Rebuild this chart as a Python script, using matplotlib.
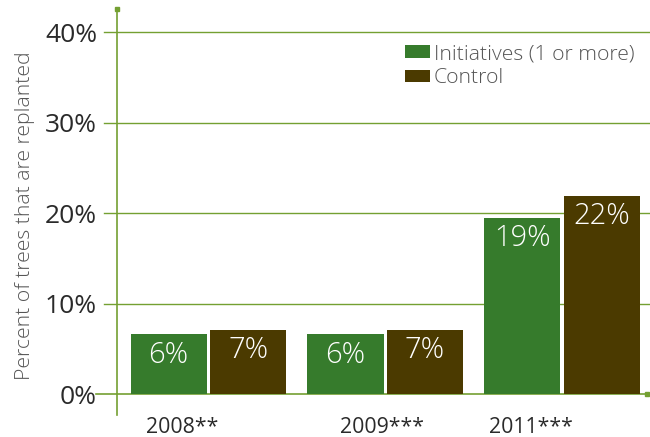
import matplotlib.pyplot as plt
import numpy as np

plt.rcParams['font.family'] = ['Open Sans', 'DejaVu Sans']
plt.rcParams['font.weight'] = 'light'

# dados
years = ['2008**', '2009***', '2011***']
initiatives = [6.6, 6.6, 19.5]
control = [7.1, 7.1, 21.9]
initiatives_labels = ['6%', '6%', '19%']
control_labels = ['7%', '7%', '22%']
y_ticks = [0, 10, 20, 30, 40]
label_shift = [-0.147, -0.017, -0.175]  # deslocamento dos rótulos do eixo x

green = '#367B2C'
brown = '#4B3A00'
line_color = '#74A032'
text_gray = '#555555'
text_dark = '#2a2a2a'

fig = plt.figure(figsize=(6.5, 4.37), dpi=100)
ax = fig.add_axes([117 / 650, 1 - 415 / 437, 533 / 650, 406 / 437])

x = np.arange(len(years))
width = 0.43
off = 0.225

b1 = ax.bar(x - off, initiatives, width, color=green, label='Initiatives (1 or more)', zorder=2)
b2 = ax.bar(x + off, control, width, color=brown, label='Control', zorder=2)

# rótulos dentro das barras
for bars, labels in [(b1, initiatives_labels), (b2, control_labels)]:
    for bar, lab in zip(bars, labels):
        ax.annotate(lab, (bar.get_x() + bar.get_width() / 2, bar.get_height()),
                    xytext=(0, -14.8), textcoords='offset points',
                    ha='center', va='center', color='white', fontsize=21, zorder=3)

ax.set_xlim(-0.517, 2.497)
ax.set_ylim(-2.32, 42.6)

# linhas de grade
trans = ax.get_yaxis_transform()
for t in y_ticks:
    if t == 0:
        ax.plot([-0.039, 0.994], [t, t], color=line_color, lw=1.2, transform=trans,
                clip_on=False, zorder=1)
        ax.plot([0.994], [t], marker='s', ms=3, color=line_color, transform=trans,
                clip_on=False)
    else:
        ax.plot([-0.0244, 1.0], [t, t], color=line_color, lw=1.0, transform=trans,
                clip_on=False, zorder=1)

for s in ['top', 'right', 'bottom']:
    ax.spines[s].set_visible(False)
ax.spines['left'].set_color(line_color)
ax.spines['left'].set_linewidth(1.2)
ax.plot([0], [1], marker='s', ms=3, color=line_color, transform=ax.transAxes, clip_on=False)

ax.set_yticks(y_ticks)
ax.set_yticklabels([f'{t}%' for t in y_ticks], fontweight='normal')
ax.tick_params(axis='y', length=0, pad=14.4, labelsize=19, labelcolor=text_dark)

ax.set_xticks([])
xt = ax.get_xaxis_transform()
for i, lab in enumerate(years):
    ax.text(x[i] + label_shift[i], -0.03, lab, transform=xt, ha='center', va='center',
            fontsize=15.3, color=text_dark, fontweight='normal')

fig.text(25 / 650, 1 - 216 / 437, 'Percent of trees that are replanted', rotation=90,
         ha='center', va='center', fontsize=15.3, color=text_gray)

ax.legend(loc='upper left', bbox_to_anchor=(405 / 650, 1 - 44 / 437),
          bbox_transform=fig.transFigure, frameon=False, fontsize=15.2,
          handlelength=1.2, handleheight=0.53, handletextpad=0.15, labelspacing=0.2,
          borderpad=0, borderaxespad=0, labelcolor=text_gray)

fig.savefig('out.png', dpi=100)
